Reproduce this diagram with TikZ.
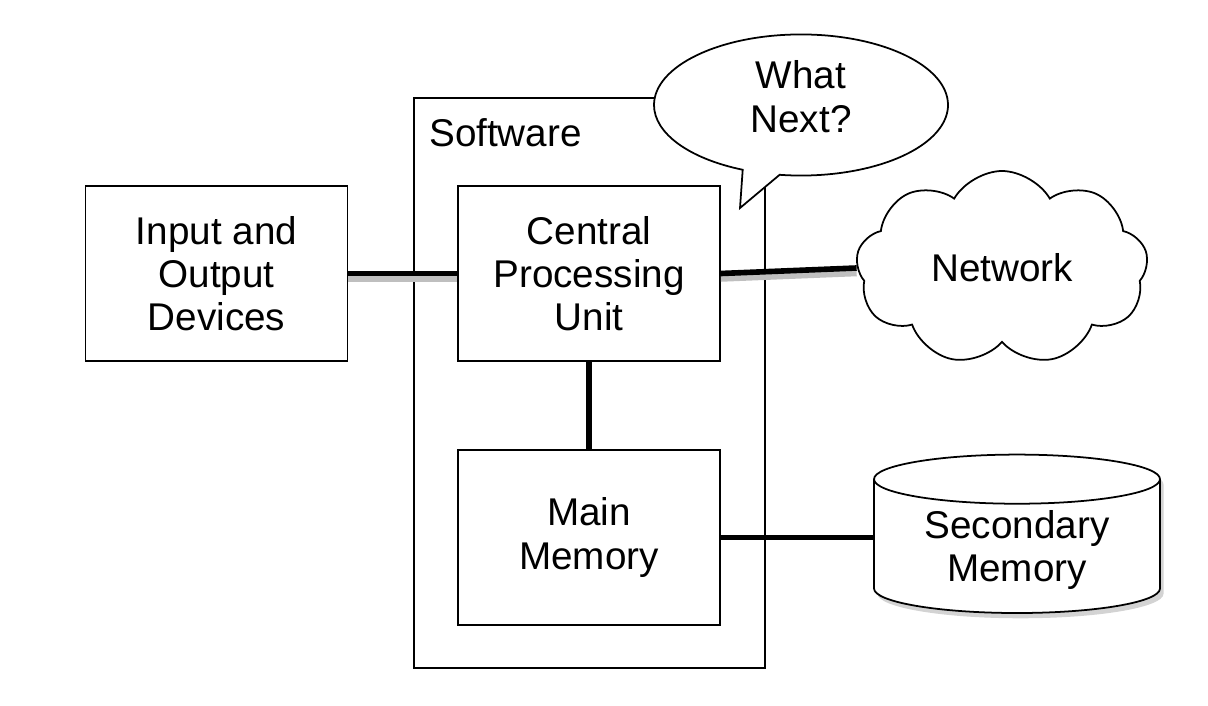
\documentclass[tikz,border=0pt]{standalone}
\usepackage{fontspec}
\setmainfont{Liberation Sans}
\usepackage{tikz}
\usetikzlibrary{shapes.geometric, shapes.symbols, shapes.callouts, shadows, positioning}

\begin{document}
\begin{tikzpicture}[
  font=\fontsize{22}{24.5}\selectfont,
  box/.style={rectangle, draw=black, line width=1pt, fill=white, align=center,
              minimum width=5.24cm, minimum height=3.5cm},
  link/.style={line width=3.2pt, black},
  shlink/.style={link, preaction={draw, black!25, line width=3.4pt,
              transform canvas={yshift=-3pt}}},
]
\useasboundingbox (0,0) rectangle (24.16,-14.12);

\node[draw, line width=1pt, minimum width=7.02cm, minimum height=11.4cm] (sw) at (11.79,-7.66) {};
\node[anchor=west] (swlabel) at (8.46,-2.66) {Software};

\node[box] (io) at (4.33,-5.47) {Input and\\Output\\Devices};
\node[box] (cpu) at (11.78,-5.47) {Central\\Processing\\Unit};
\node[box] (mem) at (11.78,-10.75) {Main\\Memory};

\node[ellipse callout, draw, line width=1pt, fill=white, align=center,
      minimum width=5.88cm, minimum height=2.62cm, text depth=0.34cm,
      callout absolute pointer={(14.8,-4.16)}] (next) at (16.02,-2.1) {What\\Next?};

\node[cloud, draw, line width=1pt, fill=white, cloud puffs=9, cloud puff arc=120,
      aspect=1.5, minimum width=5.84cm, minimum height=3.88cm] (net) at (20.04,-5.36) {Network};

\node[cylinder, shape border rotate=90, draw, line width=1pt, fill=white, align=center,
      aspect=0.25, minimum width=5.72cm, minimum height=3.0cm,
      drop shadow={opacity=0.35, shadow xshift=2pt, shadow yshift=-3pt}] (sec) at (20.34,-11.0) {Secondary\\Memory};

\draw[shlink] (io.east) -- (cpu.west);
\draw[shlink] (cpu.east) -- (net.west);
\draw[link] (cpu.south) -- (mem.north);
\draw[link] (mem.east) -- (mem.east -| sec.west);

\end{tikzpicture}
\end{document}
